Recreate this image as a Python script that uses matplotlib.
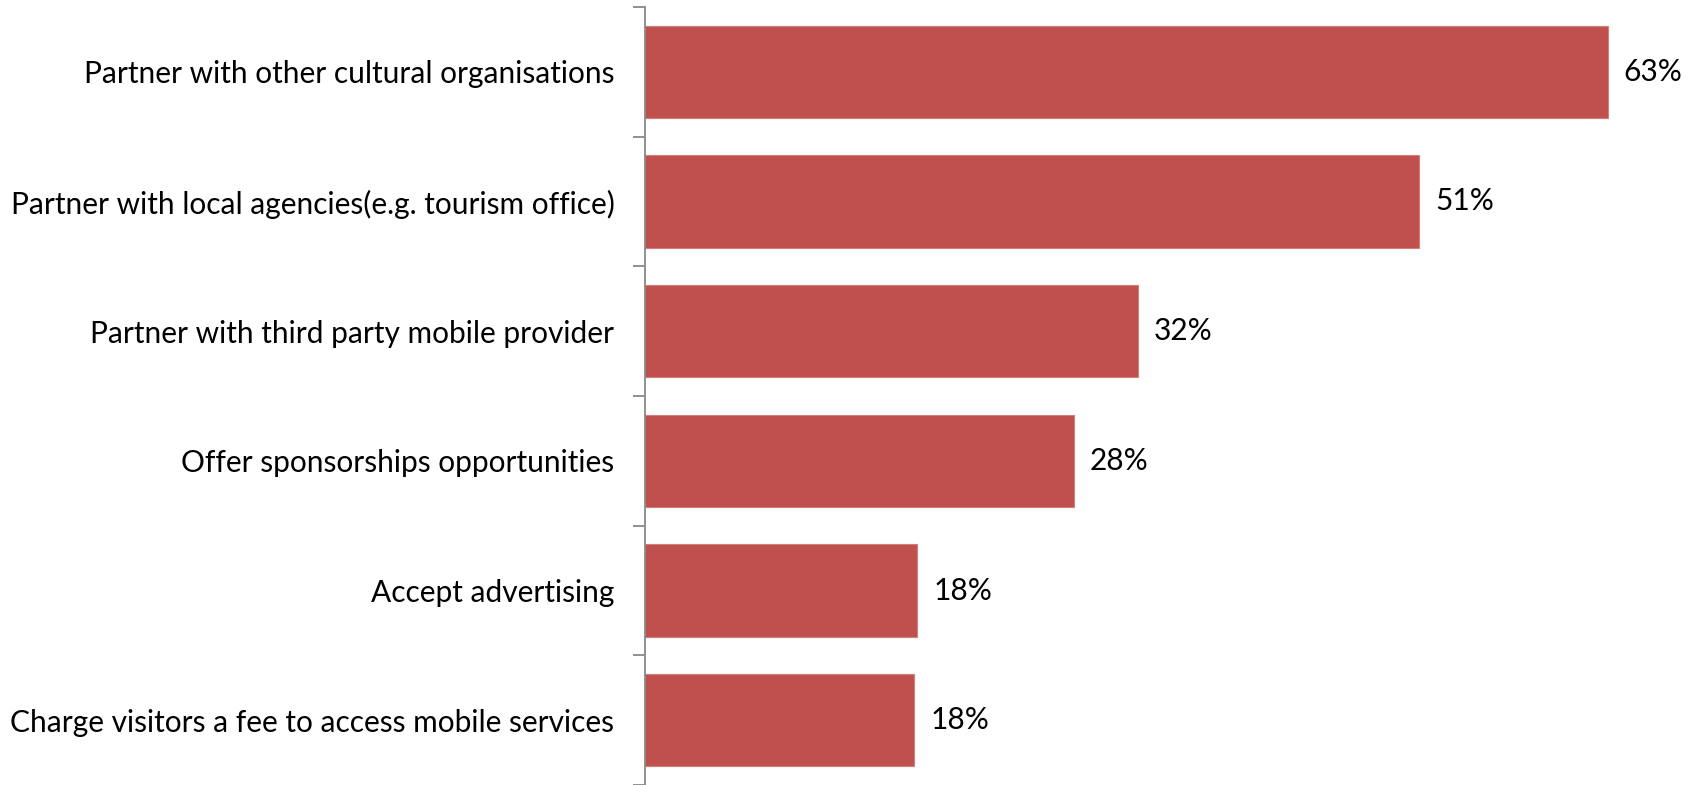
import matplotlib
matplotlib.use("Agg")
import matplotlib.pyplot as plt
import numpy as np

categories = [
    "Partner with other cultural organisations",
    "Partner with local agencies(e.g. tourism office)",
    "Partner with third party mobile provider",
    "Offer sponsorships opportunities",
    "Accept advertising",
    "Charge visitors a fee to access mobile services",
]
values = [62.9, 50.6, 32.2, 28.0, 17.8, 17.6]

plt.rcParams["font.family"] = ["Lato", "DejaVu Sans"]

fig = plt.figure(figsize=(16.98, 7.85), dpi=100)
ax = fig.add_axes([645 / 1698, 0.0, 1 - 645 / 1698, 1 - 7 / 785])

n = len(categories)
y = np.arange(n)
ax.barh(y, values, height=0.71, color="#C0504D", edgecolor="#D27F7C", linewidth=0.8)

for yi, v in zip(y, values):
    ax.text(v + 1.05, yi, f"{v:.0f}%", va="center", ha="left", fontsize=21.5, color="black")

ax.set_ylim(n - 0.5, -0.5)
ax.set_xlim(0, 68.8)
ax.set_yticks(y)
ax.set_yticklabels(categories, fontsize=21.5)
ax.set_yticks(np.arange(-0.5, n, 1.0), minor=True)
ax.tick_params(axis="y", which="major", length=0, pad=22)
ax.tick_params(axis="y", which="minor", length=9, width=1.3, color="#888888")
ax.set_xticks([])

for side in ("top", "right", "bottom"):
    ax.spines[side].set_visible(False)
ax.spines["left"].set_color("#888888")
ax.spines["left"].set_linewidth(1.3)

fig.savefig("out.png", dpi=100)
